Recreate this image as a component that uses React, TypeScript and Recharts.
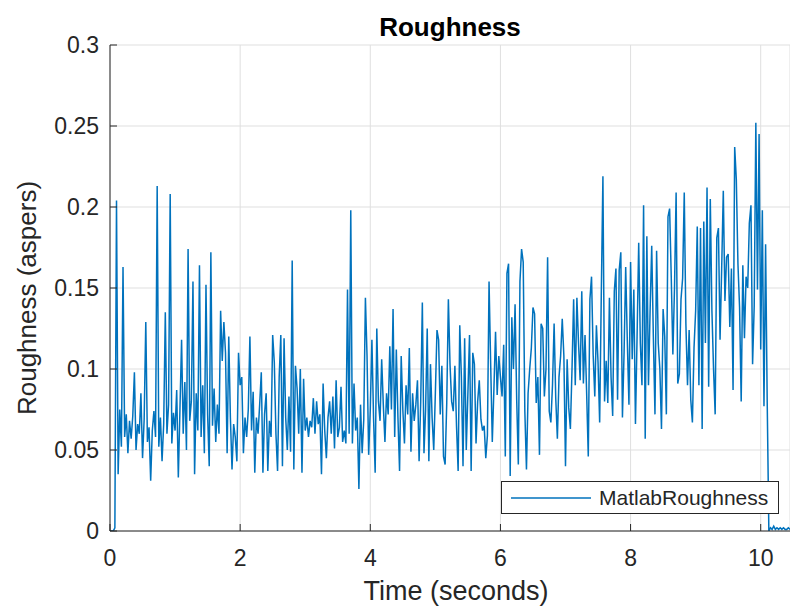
import { CartesianGrid, Legend, Line, LineChart, XAxis, YAxis } from "recharts";

// Roughness samples, one every 25 ms, grouped by second of the recording
const SAMPLE_STEP = 0.025;

const sec0 = [
  0, 0, 0, 0.002, 0.204, 0.035, 0.075, 0.052, 0.163, 0.058,
  0.072, 0.048, 0.068, 0.057, 0.071, 0.098, 0.05, 0.066, 0.06, 0.085,
  0.045, 0.069, 0.129, 0.055, 0.064, 0.031, 0.062, 0.074, 0.058, 0.213,
  0.052, 0.07, 0.043, 0.066, 0.135, 0.06, 0.078, 0.208, 0.054, 0.073,
];
const sec1 = [
  0.062, 0.087, 0.033, 0.075, 0.118, 0.06, 0.092, 0.05, 0.174, 0.068,
  0.08, 0.154, 0.035, 0.085, 0.062, 0.164, 0.058, 0.09, 0.048, 0.152,
  0.072, 0.04, 0.172, 0.065, 0.088, 0.055, 0.078, 0.06, 0.136, 0.105,
  0.129, 0.11, 0.048, 0.12, 0.07, 0.038, 0.066, 0.058, 0.043, 0.11,
];
const sec2 = [
  0.09, 0.095, 0.048, 0.07, 0.058, 0.075, 0.12, 0.062, 0.086, 0.036,
  0.07, 0.06, 0.078, 0.098, 0.036, 0.072, 0.085, 0.037, 0.068, 0.058,
  0.121, 0.104, 0.06, 0.037, 0.095, 0.121, 0.04, 0.119, 0.07, 0.05,
  0.083, 0.049, 0.167, 0.038, 0.102, 0.088, 0.06, 0.1, 0.036, 0.094,
];
const sec3 = [
  0.062, 0.07, 0.058, 0.068, 0.064, 0.082, 0.06, 0.08, 0.066, 0.072,
  0.035, 0.091, 0.062, 0.045, 0.07, 0.08, 0.06, 0.083, 0.051, 0.093,
  0.058, 0.064, 0.089, 0.055, 0.062, 0.054, 0.149, 0.06, 0.198, 0.054,
  0.091, 0.062, 0.07, 0.026, 0.078, 0.048, 0.069, 0.144, 0.108, 0.047,
];
const sec4 = [
  0.075, 0.118, 0.07, 0.036, 0.125, 0.08, 0.068, 0.106, 0.078, 0.055,
  0.085, 0.072, 0.114, 0.075, 0.137, 0.058, 0.112, 0.07, 0.037, 0.108,
  0.075, 0.054, 0.09, 0.072, 0.113, 0.049, 0.085, 0.068, 0.078, 0.093,
  0.043, 0.08, 0.141, 0.048, 0.075, 0.125, 0.043, 0.103, 0.07, 0.05,
];
const sec5 = [
  0.085, 0.124, 0.118, 0.072, 0.102, 0.046, 0.041, 0.079, 0.143, 0.103,
  0.08, 0.074, 0.102, 0.065, 0.037, 0.127, 0.095, 0.04, 0.119, 0.05,
  0.085, 0.121, 0.037, 0.11, 0.103, 0.054, 0.08, 0.093, 0.069, 0.062,
  0.065, 0.045, 0.059, 0.154, 0.103, 0.055, 0.088, 0.123, 0.084, 0.108,
];
const sec6 = [
  0.095, 0.083, 0.115, 0.046, 0.159, 0.165, 0.034, 0.132, 0.1, 0.14,
  0.081, 0.041, 0.154, 0.174, 0.166, 0.074, 0.038, 0.085, 0.1, 0.113,
  0.138, 0.134, 0.079, 0.095, 0.047, 0.128, 0.125, 0.083, 0.1, 0.169,
  0.074, 0.067, 0.09, 0.128, 0.082, 0.057, 0.095, 0.108, 0.131, 0.108,
];
const sec7 = [
  0.04, 0.106, 0.076, 0.063, 0.1, 0.143, 0.09, 0.144, 0.116, 0.093,
  0.148, 0.091, 0.121, 0.085, 0.046, 0.143, 0.157, 0.109, 0.083, 0.127,
  0.104, 0.067, 0.146, 0.219, 0.08, 0.105, 0.079, 0.144, 0.095, 0.071,
  0.148, 0.162, 0.081, 0.161, 0.172, 0.07, 0.11, 0.163, 0.117, 0.078,
];
const sec8 = [
  0.166, 0.106, 0.149, 0.066, 0.12, 0.178, 0.116, 0.09, 0.201, 0.057,
  0.182, 0.09, 0.136, 0.176, 0.12, 0.072, 0.173, 0.116, 0.1, 0.063,
  0.137, 0.12, 0.072, 0.194, 0.199, 0.157, 0.109, 0.15, 0.209, 0.091,
  0.097, 0.143, 0.156, 0.209, 0.128, 0.09, 0.124, 0.081, 0.067, 0.113,
];
const sec9 = [
  0.136, 0.188, 0.09, 0.187, 0.063, 0.191, 0.116, 0.212, 0.089, 0.205,
  0.136, 0.1, 0.072, 0.181, 0.187, 0.118, 0.162, 0.21, 0.142, 0.169,
  0.171, 0.126, 0.162, 0.087, 0.237, 0.217, 0.165, 0.138, 0.08, 0.164,
  0.119, 0.157, 0.15, 0.19, 0.201, 0.103, 0.139, 0.252, 0.149, 0.245,
];
const sec10 = [
  0.112, 0.198, 0.077, 0.177, 0.079, 0, 0.002, 0.001, 0.003, 0.001,
  0.002, 0.001, 0.002, 0.001, 0.002, 0.001, 0.001, 0.002, 0.001,
];

const xTicks = [0, 2, 4, 6, 8, 10];
const yTicks = [0, 0.05, 0.1, 0.15, 0.2, 0.25, 0.3];

const roughness = [
  ...sec0, ...sec1, ...sec2, ...sec3, ...sec4, ...sec5,
  ...sec6, ...sec7, ...sec8, ...sec9, ...sec10,
];
const chartData = roughness.map((value, i) => ({
  time: +(i * SAMPLE_STEP).toFixed(3),
  MatlabRoughness: value,
}));

const FONT = '"Liberation Sans", Arial, Helvetica, sans-serif';
const AXIS_COLOR = "#262626";
const LINE_COLOR = "#0072BD";

const renderYLabel = () => (
  <text
    x={36}
    y={298}
    transform="rotate(-90 36 298)"
    textAnchor="middle"
    fill={AXIS_COLOR}
    fontSize={26}
    fontFamily={FONT}
  >
    Roughness (aspers)
  </text>
);

const renderXLabel = () => (
  <text
    x={456}
    y={600}
    textAnchor="middle"
    fill={AXIS_COLOR}
    fontSize={27}
    fontFamily={FONT}
  >
    Time (seconds)
  </text>
);

const renderLegend = () => (
  <div
    style={{
      width: 276,
      height: 31,
      border: `1px solid ${AXIS_COLOR}`,
      background: "#fff",
      display: "flex",
      alignItems: "center",
      fontFamily: FONT,
      fontSize: 21,
      color: AXIS_COLOR,
    }}
  >
    <svg width={90} height={31}>
      <line x1={9} x2={89} y1={16} y2={16} stroke={LINE_COLOR} strokeWidth={1.3} />
    </svg>
    <span style={{ marginLeft: 7 }}>MatlabRoughness</span>
  </div>
);

export default function App() {
  return (
    <div style={{ position: "relative", width: 790, height: 608, background: "#fff" }}>
      <style>{"body{margin:0}"}</style>
      <div
        style={{
          position: "absolute",
          left: 110,
          width: 680,
          top: 12,
          textAlign: "center",
          fontFamily: FONT,
          fontWeight: "bold",
          fontSize: 26,
          color: "#000",
          lineHeight: "30px",
        }}
      >
        Roughness
      </div>
      <LineChart
        width={790}
        height={608}
        data={chartData}
        margin={{ top: 45, right: 0, bottom: 0, left: 0 }}
      >
        <CartesianGrid stroke="#dfdfdf" strokeWidth={1} />
        <XAxis
          dataKey="time"
          type="number"
          domain={[0, 10.45]}
          ticks={xTicks}
          height={77}
          interval={0}
          allowDataOverflow
          stroke={AXIS_COLOR}
          tickSize={-7}
          tickMargin={26}
          tick={{ fill: AXIS_COLOR, fontSize: 23, fontFamily: FONT }}
          label={renderXLabel}
        />
        <YAxis
          type="number"
          domain={[0, 0.3]}
          ticks={yTicks}
          width={110}
          interval={0}
          allowDataOverflow
          stroke={AXIS_COLOR}
          tickSize={-7}
          tickMargin={18}
          tick={{ fill: AXIS_COLOR, fontSize: 23, fontFamily: FONT }}
          label={renderYLabel}
        />
        <Legend
          layout="vertical"
          align="center"
          verticalAlign="middle"
          content={renderLegend}
          wrapperStyle={{ position: "absolute", left: 501, top: 481, width: 278, height: 33 }}
        />
        <Line
          type="linear"
          dataKey="MatlabRoughness"
          stroke={LINE_COLOR}
          strokeWidth={1.5}
          dot={false}
          isAnimationActive={false}
        />
      </LineChart>
    </div>
  );
}
